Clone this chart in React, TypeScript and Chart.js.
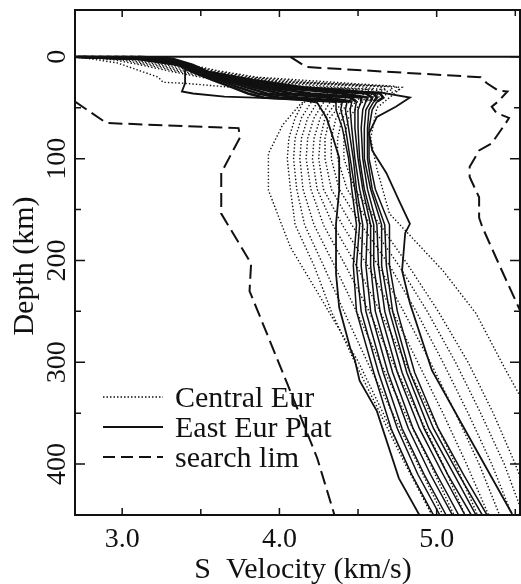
import React, { useEffect, useRef } from 'react';
import { Chart, registerables } from 'chart.js';

Chart.register(...registerables);

// ---- axes ----
const X_MIN = 2.7;
const X_MAX = 5.53;
const Y_MIN = -46;
const Y_MAX = 450;
const X_MAJOR = [3.0, 4.0, 5.0];
const X_MINOR = [3.5, 4.5, 5.5];
const Y_MAJOR = [0, 100, 200, 300, 400];
const Y_MINOR = [50, 150, 250, 350];
const X_TITLE = 'S  Velocity (km/s)';
const Y_TITLE = 'Depth (km)';
const LEGEND_LABELS = ['Central Eur', 'East Eur Plat', 'search lim'];

// ---- search limits (dashed) ----
const LIM_LEFT_V = [2.70, 2.90, 3.74, 3.75, 3.63, 3.63, 3.82, 3.81, 4.05, 4.24, 4.35];
const LIM_LEFT_D = [44, 65, 70, 79, 114, 154, 203, 230, 321, 394, 450];
const LIM_RIGHT_V = [4.07, 4.15, 4.17, 5.28, 5.32, 5.39, 5.45, 5.39, 5.35, 5.38, 5.46, 5.44, 5.35, 5.27, 5.21, 5.21, 5.27, 5.27, 5.29, 5.40, 5.53, 5.65];
const LIM_RIGHT_D = [0, 8, 10, 20, 26, 33, 34, 44, 49, 55, 60, 65, 85, 92, 108, 118, 138, 158, 167, 205, 249, 294];

// ---- East Eur Plat (solid) ----
const EEP_LEFT_V = [2.70, 3.27, 3.38, 3.40, 3.40, 3.38, 3.45, 3.65, 3.84, 4.13, 4.24, 4.30, 4.34, 4.38, 4.38, 4.36, 4.36, 4.38, 4.45, 4.48, 4.51, 4.62, 4.76, 4.89];
const EEP_LEFT_D = [0, 1, 5, 12, 26, 34, 36, 39, 40, 42, 45, 60, 79, 99, 131, 164, 213, 246, 286, 298, 318, 348, 414, 450];
const EEP_RIGHT_V = [2.70, 3.27, 3.38, 3.40, 3.54, 3.84, 4.13, 4.64, 4.83, 4.74, 4.62, 4.57, 4.59, 4.68, 4.76, 4.83, 4.80, 4.78, 4.83, 4.97, 5.23, 5.48];
const EEP_RIGHT_D = [0, 1, 5, 10, 17, 26, 32, 35, 40, 49, 59, 75, 92, 114, 141, 164, 173, 210, 242, 308, 380, 449];
const EEP_BAND_D = [0, 2, 8, 15, 23, 30, 36, 40, 44, 52, 70, 100, 130, 165, 205, 250, 310, 365, 410, 450];
const EEP_B1 = [2.70, 3.10, 3.36, 3.45, 3.58, 3.70, 3.80, 3.90, 4.36, 4.36, 4.40, 4.44, 4.46, 4.49, 4.47, 4.49, 4.60, 4.71, 4.84, 4.98];
const EEP_B2 = [2.72, 3.14, 3.37, 3.46, 3.62, 3.74, 3.86, 4.00, 4.40, 4.39, 4.42, 4.45, 4.48, 4.51, 4.49, 4.52, 4.63, 4.75, 4.88, 5.02];
const EEP_B3 = [2.75, 3.17, 3.38, 3.48, 3.65, 3.79, 3.92, 4.12, 4.43, 4.42, 4.44, 4.47, 4.49, 4.53, 4.52, 4.55, 4.66, 4.78, 4.92, 5.06];
const EEP_B4 = [2.80, 3.20, 3.39, 3.49, 3.68, 3.84, 4.00, 4.30, 4.46, 4.45, 4.46, 4.48, 4.51, 4.56, 4.55, 4.58, 4.69, 4.82, 4.96, 5.10];
const EEP_B5 = [2.85, 3.22, 3.40, 3.50, 3.71, 3.89, 4.08, 4.45, 4.49, 4.48, 4.48, 4.50, 4.53, 4.58, 4.58, 4.61, 4.72, 4.85, 5.00, 5.14];
const EEP_B6 = [2.90, 3.24, 3.41, 3.51, 3.74, 3.94, 4.20, 4.52, 4.52, 4.50, 4.50, 4.51, 4.54, 4.60, 4.60, 4.64, 4.75, 4.89, 5.04, 5.18];
const EEP_B7 = [2.95, 3.26, 3.42, 3.52, 3.77, 4.00, 4.40, 4.56, 4.55, 4.53, 4.52, 4.53, 4.56, 4.62, 4.63, 4.67, 4.78, 4.92, 5.07, 5.22];
const EEP_B8 = [3.00, 3.28, 3.43, 3.53, 3.80, 4.05, 4.55, 4.59, 4.58, 4.55, 4.54, 4.54, 4.58, 4.65, 4.65, 4.70, 4.81, 4.95, 5.11, 5.25];
const EEP_B9 = [3.05, 3.30, 3.44, 3.54, 3.82, 4.10, 4.60, 4.62, 4.60, 4.57, 4.56, 4.56, 4.59, 4.67, 4.68, 4.72, 4.83, 4.98, 5.14, 5.29];
const EEP_B10 = [3.10, 3.32, 3.45, 3.55, 3.84, 4.15, 4.64, 4.66, 4.62, 4.59, 4.57, 4.57, 4.61, 4.70, 4.70, 4.75, 4.86, 5.01, 5.17, 5.32];

// ---- Central Eur (dotted) ----
const CE_LEFT_V = [2.70, 2.80, 2.97, 3.23, 3.26, 3.40, 3.70, 4.25, 4.13, 4.02, 3.93, 3.93, 4.07, 4.26, 4.45, 4.50, 4.66, 4.81, 4.97];
const CE_LEFT_D = [0, 2, 6, 20, 25, 26, 30, 32, 47, 67, 95, 131, 187, 236, 286, 299, 350, 400, 450];
const CE_RIGHT_V = [2.70, 3.20, 3.53, 3.84, 4.40, 4.78, 4.62, 4.58, 4.62, 4.70, 5.04, 5.25, 5.43, 5.53, 5.70];
const CE_RIGHT_D = [0, 1, 15, 23, 27, 30, 50, 80, 110, 154, 210, 252, 305, 333, 370];
const CE_BAND_D = [0, 3, 8, 14, 20, 25, 29, 32, 36, 45, 60, 80, 100, 130, 165, 205, 250, 300, 350, 400, 450];
const CE_C1 = [2.70, 2.95, 3.12, 3.30, 3.50, 3.70, 3.85, 4.35, 4.30, 4.15, 4.10, 4.06, 4.05, 4.07, 4.10, 4.22, 4.33, 4.48, 4.64, 4.80, 4.97];
const CE_C2 = [2.76, 3.00, 3.16, 3.34, 3.54, 3.75, 3.90, 4.40, 4.34, 4.20, 4.14, 4.10, 4.09, 4.11, 4.16, 4.28, 4.41, 4.56, 4.72, 4.88, 5.04];
const CE_C3 = [2.82, 3.04, 3.20, 3.38, 3.58, 3.80, 3.96, 4.45, 4.38, 4.24, 4.18, 4.14, 4.13, 4.15, 4.22, 4.35, 4.49, 4.64, 4.80, 4.96, 5.11];
const CE_C4 = [2.88, 3.08, 3.24, 3.42, 3.62, 3.85, 4.05, 4.50, 4.42, 4.28, 4.22, 4.18, 4.17, 4.20, 4.28, 4.42, 4.57, 4.72, 4.88, 5.04, 5.18];
const CE_C5 = [2.94, 3.12, 3.28, 3.46, 3.66, 3.90, 4.15, 4.55, 4.46, 4.32, 4.26, 4.22, 4.21, 4.24, 4.34, 4.49, 4.64, 4.80, 4.96, 5.12, 5.26];
const CE_C6 = [3.00, 3.16, 3.32, 3.50, 3.70, 3.96, 4.30, 4.60, 4.50, 4.36, 4.29, 4.26, 4.25, 4.28, 4.40, 4.56, 4.72, 4.88, 5.04, 5.19, 5.33];
const CE_C7 = [3.05, 3.20, 3.35, 3.53, 3.74, 4.02, 4.50, 4.64, 4.55, 4.40, 4.32, 4.29, 4.29, 4.33, 4.46, 4.63, 4.79, 4.96, 5.12, 5.27, 5.40];
const CE_C8 = [3.10, 3.23, 3.38, 3.56, 3.78, 4.10, 4.62, 4.68, 4.60, 4.44, 4.36, 4.33, 4.33, 4.38, 4.52, 4.70, 4.87, 5.04, 5.20, 5.35, 5.48];
const CE_C9 = [3.15, 3.26, 3.41, 3.59, 3.82, 4.20, 4.70, 4.72, 4.65, 4.48, 4.40, 4.37, 4.37, 4.43, 4.58, 4.76, 4.94, 5.12, 5.28, 5.43, 5.55];
const CE_C10 = [3.20, 3.29, 3.44, 3.62, 3.86, 4.35, 4.74, 4.76, 4.70, 4.52, 4.44, 4.41, 4.41, 4.48, 4.64, 4.82, 5.01, 5.20, 5.36, 5.50, 5.62];

const INK = '#111';
const SERIF = '"Liberation Serif", "DejaVu Serif", serif';
const DOT = [1.4, 2.1];
const DASH = [14, 6];
const CRUST_BASE = 44;

function pts(vs: number[], ds: number[]) {
  return vs.map((v, i) => ({ x: v, y: ds[i] }));
}

function line(vs: number[], ds: number[], width: number, dash: number[], crustWidth?: number) {
  const ds0: any = {
    data: pts(vs, ds),
    showLine: true,
    borderColor: INK,
    backgroundColor: INK,
    borderWidth: width,
    borderDash: dash,
    pointRadius: 0,
    pointHoverRadius: 0,
    fill: false,
    tension: 0,
  };
  if (crustWidth) {
    ds0.segment = {
      borderWidth: (c: any) => (c.p1.parsed.y <= CRUST_BASE ? crustWidth : width),
    };
  }
  return ds0;
}

const framePlugin = {
  id: 'frame',
  afterDatasetsDraw(chart: any) {
    const { ctx, chartArea: a, scales } = chart;
    const xs = scales.x;
    const ys = scales.y;
    ctx.save();
    ctx.strokeStyle = INK;
    ctx.fillStyle = INK;
    ctx.setLineDash([]);
    ctx.lineWidth = 2;
    ctx.strokeRect(a.left, a.top, a.right - a.left, a.bottom - a.top);
    // surface line
    const y0 = ys.getPixelForValue(0);
    ctx.beginPath();
    ctx.moveTo(a.left, y0);
    ctx.lineTo(a.right, y0);
    ctx.stroke();

    // ticks (inward)
    ctx.lineWidth = 1.5;
    const tickX = (v: number, len: number) => {
      const px = xs.getPixelForValue(v);
      ctx.beginPath();
      ctx.moveTo(px, a.bottom);
      ctx.lineTo(px, a.bottom - len);
      ctx.moveTo(px, a.top);
      ctx.lineTo(px, a.top + len);
      ctx.stroke();
    };
    const tickY = (d: number, len: number) => {
      const py = ys.getPixelForValue(d);
      ctx.beginPath();
      ctx.moveTo(a.left, py);
      ctx.lineTo(a.left + len, py);
      ctx.moveTo(a.right, py);
      ctx.lineTo(a.right - len, py);
      ctx.stroke();
    };
    X_MAJOR.forEach((v) => tickX(v, 7));
    X_MINOR.forEach((v) => tickX(v, 6));
    Y_MAJOR.forEach((d) => tickY(d, 10));
    Y_MINOR.forEach((d) => tickY(d, 6));

    // x tick labels
    ctx.font = `28px ${SERIF}`;
    ctx.textAlign = 'center';
    ctx.textBaseline = 'alphabetic';
    X_MAJOR.forEach((v) => {
      ctx.fillText(v.toFixed(1), xs.getPixelForValue(v), 547);
    });
    // x title
    ctx.font = `30px ${SERIF}`;
    ctx.fillText(X_TITLE, 303, 578);

    // y tick labels (rotated)
    ctx.font = `28px ${SERIF}`;
    Y_MAJOR.forEach((d) => {
      ctx.save();
      ctx.translate(65, ys.getPixelForValue(d));
      ctx.rotate(-Math.PI / 2);
      ctx.fillText(String(d), 0, 0);
      ctx.restore();
    });
    // y title
    ctx.font = `30px ${SERIF}`;
    ctx.save();
    ctx.translate(33, 266);
    ctx.rotate(-Math.PI / 2);
    ctx.fillText(Y_TITLE, 0, 0);
    ctx.restore();

    // legend
    const styles = [
      { dash: [1.5, 2], width: 1.3 },
      { dash: [], width: 2 },
      { dash: [12, 6], width: 2 },
    ];
    const rows = [397, 427, 457];
    ctx.textAlign = 'left';
    ctx.font = `30px ${SERIF}`;
    LEGEND_LABELS.forEach((label, i) => {
      ctx.beginPath();
      ctx.setLineDash(styles[i].dash);
      ctx.lineWidth = styles[i].width;
      ctx.moveTo(103, rows[i]);
      ctx.lineTo(163, rows[i]);
      ctx.stroke();
      ctx.setLineDash([]);
      ctx.fillText(label, 175, rows[i] + 10);
    });
    ctx.restore();
  },
};

export default function App() {
  const ref = useRef<HTMLCanvasElement>(null);
  useEffect(() => {
    if (!ref.current) return;
    const ceBand = [CE_C1, CE_C2, CE_C3, CE_C4, CE_C5, CE_C6, CE_C7, CE_C8, CE_C9, CE_C10];
    const eepBand = [EEP_B1, EEP_B2, EEP_B3, EEP_B4, EEP_B5, EEP_B6, EEP_B7, EEP_B8, EEP_B9, EEP_B10];
    const datasets: any[] = [
      ...ceBand.map((vs) => line(vs, CE_BAND_D, 1.4, DOT)),
      line(CE_LEFT_V, CE_LEFT_D, 1.4, DOT),
      line(CE_RIGHT_V, CE_RIGHT_D, 1.4, DOT),
      ...eepBand.map((vs) => line(vs, EEP_BAND_D, 1.5, [], 2.6)),
      line(EEP_LEFT_V, EEP_LEFT_D, 1.8, []),
      line(EEP_RIGHT_V, EEP_RIGHT_D, 1.8, []),
      line(LIM_LEFT_V, LIM_LEFT_D, 2, DASH),
      line(LIM_RIGHT_V, LIM_RIGHT_D, 2, DASH),
    ];
    const chart = new Chart(ref.current, {
      type: 'scatter',
      data: { datasets },
      options: {
        responsive: false,
        animation: false,
        devicePixelRatio: 1,
        layout: { padding: { left: 75, top: 10, right: 1, bottom: 69 } },
        scales: {
          x: { type: 'linear', min: X_MIN, max: X_MAX, display: false },
          y: { type: 'linear', min: Y_MIN, max: Y_MAX, reverse: true, display: false },
        },
        plugins: { legend: { display: false }, tooltip: { enabled: false } },
        events: [],
      },
      plugins: [framePlugin],
    } as any);
    return () => chart.destroy();
  }, []);
  return (
    <div style={{ position: 'absolute', left: 0, top: 0, width: 521, height: 584, background: '#fff' }}>
      <canvas ref={ref} width={521} height={584} style={{ display: 'block' }} />
    </div>
  );
}
